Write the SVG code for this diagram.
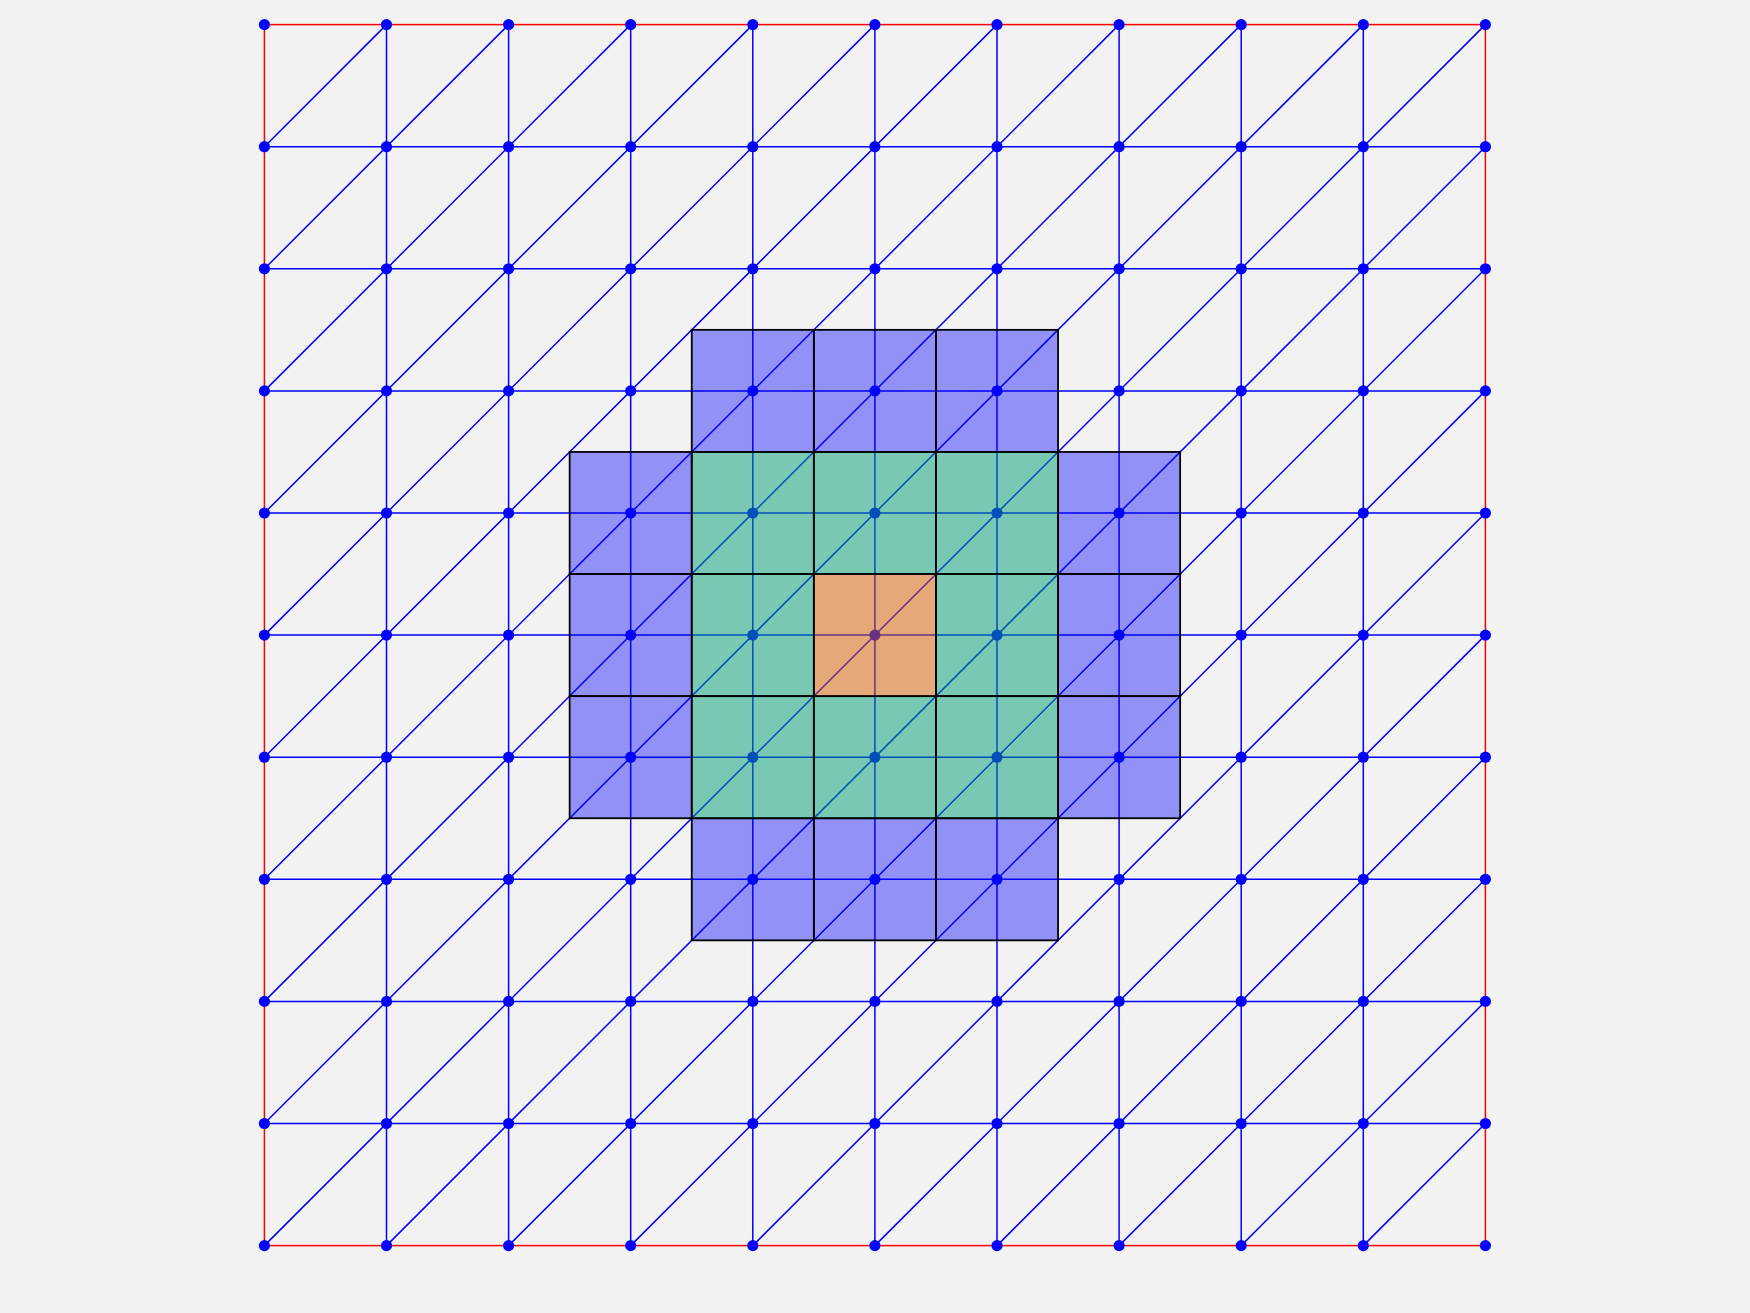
<svg xmlns="http://www.w3.org/2000/svg" xmlns:xlink="http://www.w3.org/1999/xlink" width="1750" height="1313" viewBox="0 0 1750 1313">
<style>
.inner{stroke:#0000ff;stroke-width:1.5;fill:none}
.bnd{stroke:#ff0000;stroke-width:1.5;fill:none}
.dot{fill:#0000ff}
.sq{stroke:#000000;stroke-width:1.8}
.b{fill:#0000ff;fill-opacity:0.4}
.g{fill:#009E73;fill-opacity:0.5}
.o{fill:#D55E00;fill-opacity:0.5}
</style>
<defs><circle id="d" r="5.6" class="dot"/></defs>
<rect x="0" y="0" width="1750" height="1313" fill="#f2f2f2"/>
<g id="connectors">
<path class="inner" d="M264.4 146.7H1485.4M264.4 268.8H1485.4M264.4 390.9H1485.4M264.4 513H1485.4M264.4 635.1H1485.4M264.4 757.2H1485.4M264.4 879.3H1485.4M264.4 1001.4H1485.4M264.4 1123.5H1485.4
M386.5 24.6V1245.6M508.6 24.6V1245.6M630.7 24.6V1245.6M752.8 24.6V1245.6M874.9 24.6V1245.6M997 24.6V1245.6M1119.1 24.6V1245.6M1241.2 24.6V1245.6M1363.3 24.6V1245.6
M264.4 146.7L386.5 24.6M264.4 268.8L508.6 24.6M264.4 390.9L630.7 24.6M264.4 513L752.8 24.6M264.4 635.1L874.9 24.6M264.4 757.2L997 24.6M264.4 879.3L1119.1 24.6M264.4 1001.4L1241.2 24.6M264.4 1123.5L1363.3 24.6M264.4 1245.6L1485.4 24.6
M386.5 1245.6L1485.4 146.7M508.6 1245.6L1485.4 268.8M630.7 1245.6L1485.4 390.9M752.8 1245.6L1485.4 513M874.9 1245.6L1485.4 635.1M997 1245.6L1485.4 757.2M1119.1 1245.6L1485.4 879.3M1241.2 1245.6L1485.4 1001.4M1363.3 1245.6L1485.4 1123.5"/>
<rect class="bnd" x="264.4" y="24.6" width="1221" height="1221"/>
</g>
<g id="nodes">
<g id="row0"><use xlink:href="#d" x="264.4" y="24.6"/><use xlink:href="#d" x="386.5" y="24.6"/><use xlink:href="#d" x="508.6" y="24.6"/><use xlink:href="#d" x="630.7" y="24.6"/><use xlink:href="#d" x="752.8" y="24.6"/><use xlink:href="#d" x="874.9" y="24.6"/><use xlink:href="#d" x="997" y="24.6"/><use xlink:href="#d" x="1119.1" y="24.6"/><use xlink:href="#d" x="1241.2" y="24.6"/><use xlink:href="#d" x="1363.3" y="24.6"/><use xlink:href="#d" x="1485.4" y="24.6"/></g>
<g id="row1"><use xlink:href="#d" x="264.4" y="146.7"/><use xlink:href="#d" x="386.5" y="146.7"/><use xlink:href="#d" x="508.6" y="146.7"/><use xlink:href="#d" x="630.7" y="146.7"/><use xlink:href="#d" x="752.8" y="146.7"/><use xlink:href="#d" x="874.9" y="146.7"/><use xlink:href="#d" x="997" y="146.7"/><use xlink:href="#d" x="1119.1" y="146.7"/><use xlink:href="#d" x="1241.2" y="146.7"/><use xlink:href="#d" x="1363.3" y="146.7"/><use xlink:href="#d" x="1485.4" y="146.7"/></g>
<g id="row2"><use xlink:href="#d" x="264.4" y="268.8"/><use xlink:href="#d" x="386.5" y="268.8"/><use xlink:href="#d" x="508.6" y="268.8"/><use xlink:href="#d" x="630.7" y="268.8"/><use xlink:href="#d" x="752.8" y="268.8"/><use xlink:href="#d" x="874.9" y="268.8"/><use xlink:href="#d" x="997" y="268.8"/><use xlink:href="#d" x="1119.1" y="268.8"/><use xlink:href="#d" x="1241.2" y="268.8"/><use xlink:href="#d" x="1363.3" y="268.8"/><use xlink:href="#d" x="1485.4" y="268.8"/></g>
<g id="row3"><use xlink:href="#d" x="264.4" y="390.9"/><use xlink:href="#d" x="386.5" y="390.9"/><use xlink:href="#d" x="508.6" y="390.9"/><use xlink:href="#d" x="630.7" y="390.9"/><use xlink:href="#d" x="752.8" y="390.9"/><use xlink:href="#d" x="874.9" y="390.9"/><use xlink:href="#d" x="997" y="390.9"/><use xlink:href="#d" x="1119.1" y="390.9"/><use xlink:href="#d" x="1241.2" y="390.9"/><use xlink:href="#d" x="1363.3" y="390.9"/><use xlink:href="#d" x="1485.4" y="390.9"/></g>
<g id="row4"><use xlink:href="#d" x="264.4" y="513"/><use xlink:href="#d" x="386.5" y="513"/><use xlink:href="#d" x="508.6" y="513"/><use xlink:href="#d" x="630.7" y="513"/><use xlink:href="#d" x="752.8" y="513"/><use xlink:href="#d" x="874.9" y="513"/><use xlink:href="#d" x="997" y="513"/><use xlink:href="#d" x="1119.1" y="513"/><use xlink:href="#d" x="1241.2" y="513"/><use xlink:href="#d" x="1363.3" y="513"/><use xlink:href="#d" x="1485.4" y="513"/></g>
<g id="row5"><use xlink:href="#d" x="264.4" y="635.1"/><use xlink:href="#d" x="386.5" y="635.1"/><use xlink:href="#d" x="508.6" y="635.1"/><use xlink:href="#d" x="630.7" y="635.1"/><use xlink:href="#d" x="752.8" y="635.1"/><use xlink:href="#d" x="874.9" y="635.1"/><use xlink:href="#d" x="997" y="635.1"/><use xlink:href="#d" x="1119.1" y="635.1"/><use xlink:href="#d" x="1241.2" y="635.1"/><use xlink:href="#d" x="1363.3" y="635.1"/><use xlink:href="#d" x="1485.4" y="635.1"/></g>
<g id="row6"><use xlink:href="#d" x="264.4" y="757.2"/><use xlink:href="#d" x="386.5" y="757.2"/><use xlink:href="#d" x="508.6" y="757.2"/><use xlink:href="#d" x="630.7" y="757.2"/><use xlink:href="#d" x="752.8" y="757.2"/><use xlink:href="#d" x="874.9" y="757.2"/><use xlink:href="#d" x="997" y="757.2"/><use xlink:href="#d" x="1119.1" y="757.2"/><use xlink:href="#d" x="1241.2" y="757.2"/><use xlink:href="#d" x="1363.3" y="757.2"/><use xlink:href="#d" x="1485.4" y="757.2"/></g>
<g id="row7"><use xlink:href="#d" x="264.4" y="879.3"/><use xlink:href="#d" x="386.5" y="879.3"/><use xlink:href="#d" x="508.6" y="879.3"/><use xlink:href="#d" x="630.7" y="879.3"/><use xlink:href="#d" x="752.8" y="879.3"/><use xlink:href="#d" x="874.9" y="879.3"/><use xlink:href="#d" x="997" y="879.3"/><use xlink:href="#d" x="1119.1" y="879.3"/><use xlink:href="#d" x="1241.2" y="879.3"/><use xlink:href="#d" x="1363.3" y="879.3"/><use xlink:href="#d" x="1485.4" y="879.3"/></g>
<g id="row8"><use xlink:href="#d" x="264.4" y="1001.4"/><use xlink:href="#d" x="386.5" y="1001.4"/><use xlink:href="#d" x="508.6" y="1001.4"/><use xlink:href="#d" x="630.7" y="1001.4"/><use xlink:href="#d" x="752.8" y="1001.4"/><use xlink:href="#d" x="874.9" y="1001.4"/><use xlink:href="#d" x="997" y="1001.4"/><use xlink:href="#d" x="1119.1" y="1001.4"/><use xlink:href="#d" x="1241.2" y="1001.4"/><use xlink:href="#d" x="1363.3" y="1001.4"/><use xlink:href="#d" x="1485.4" y="1001.4"/></g>
<g id="row9"><use xlink:href="#d" x="264.4" y="1123.5"/><use xlink:href="#d" x="386.5" y="1123.5"/><use xlink:href="#d" x="508.6" y="1123.5"/><use xlink:href="#d" x="630.7" y="1123.5"/><use xlink:href="#d" x="752.8" y="1123.5"/><use xlink:href="#d" x="874.9" y="1123.5"/><use xlink:href="#d" x="997" y="1123.5"/><use xlink:href="#d" x="1119.1" y="1123.5"/><use xlink:href="#d" x="1241.2" y="1123.5"/><use xlink:href="#d" x="1363.3" y="1123.5"/><use xlink:href="#d" x="1485.4" y="1123.5"/></g>
<g id="row10"><use xlink:href="#d" x="264.4" y="1245.6"/><use xlink:href="#d" x="386.5" y="1245.6"/><use xlink:href="#d" x="508.6" y="1245.6"/><use xlink:href="#d" x="630.7" y="1245.6"/><use xlink:href="#d" x="752.8" y="1245.6"/><use xlink:href="#d" x="874.9" y="1245.6"/><use xlink:href="#d" x="997" y="1245.6"/><use xlink:href="#d" x="1119.1" y="1245.6"/><use xlink:href="#d" x="1241.2" y="1245.6"/><use xlink:href="#d" x="1363.3" y="1245.6"/><use xlink:href="#d" x="1485.4" y="1245.6"/></g>
</g>
<g id="patches">
<g id="ring2">
<rect class="sq b" x="691.75" y="329.85" width="122.1" height="122.1"/>
<rect class="sq b" x="813.85" y="329.85" width="122.1" height="122.1"/>
<rect class="sq b" x="935.95" y="329.85" width="122.1" height="122.1"/>
<rect class="sq b" x="569.65" y="451.95" width="122.1" height="122.1"/>
<rect class="sq b" x="569.65" y="574.05" width="122.1" height="122.1"/>
<rect class="sq b" x="569.65" y="696.15" width="122.1" height="122.1"/>
<rect class="sq b" x="1058.05" y="451.95" width="122.1" height="122.1"/>
<rect class="sq b" x="1058.05" y="574.05" width="122.1" height="122.1"/>
<rect class="sq b" x="1058.05" y="696.15" width="122.1" height="122.1"/>
<rect class="sq b" x="691.75" y="818.25" width="122.1" height="122.1"/>
<rect class="sq b" x="813.85" y="818.25" width="122.1" height="122.1"/>
<rect class="sq b" x="935.95" y="818.25" width="122.1" height="122.1"/>
</g>
<g id="ring1">
<rect class="sq g" x="691.75" y="451.95" width="122.1" height="122.1"/>
<rect class="sq g" x="813.85" y="451.95" width="122.1" height="122.1"/>
<rect class="sq g" x="935.95" y="451.95" width="122.1" height="122.1"/>
<rect class="sq g" x="691.75" y="574.05" width="122.1" height="122.1"/>
<rect class="sq g" x="935.95" y="574.05" width="122.1" height="122.1"/>
<rect class="sq g" x="691.75" y="696.15" width="122.1" height="122.1"/>
<rect class="sq g" x="813.85" y="696.15" width="122.1" height="122.1"/>
<rect class="sq g" x="935.95" y="696.15" width="122.1" height="122.1"/>
</g>
<g id="center">
<rect class="sq o" x="813.85" y="574.05" width="122.1" height="122.1"/>
</g>
</g>
</svg>
